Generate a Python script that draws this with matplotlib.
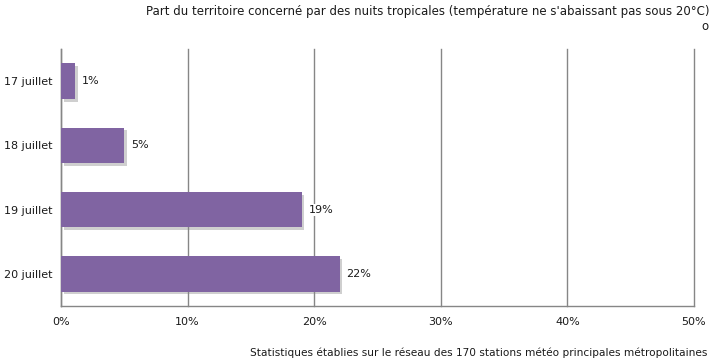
import matplotlib
matplotlib.use("Agg")
import matplotlib.pyplot as plt
import matplotlib.patheffects as pe

# data
days = ['17 juillet', '18 juillet', '19 juillet', '20 juillet']
share = [1.1, 5.0, 19.0, 22.0]
labels = ['1%', '5%', '19%', '22%']
xticks = [0, 10, 20, 30, 40, 50]

title = "Part du territoire concerné par des nuits tropicales (température ne s'abaissant pas sous 20°C)"
source = "Statistiques établies sur le réseau des 170 stations météo principales métropolitaines"

purple = '#8064a2'
grid = '#868686'
txt = '#1a1a1a'

plt.rcParams['font.family'] = ['DejaVu Sans']
fig = plt.figure(figsize=(7.15, 3.62), dpi=100)
ax = fig.add_axes([61/715, 1 - 306/362, (694 - 61)/715, (306 - 49)/362])

pos = list(range(len(days)))
bars = ax.barh(pos, share, height=0.55, color=purple, zorder=3)
for b in bars:
    b.set_path_effects([pe.SimplePatchShadow(offset=(2, -2), shadow_rgbFace='#888888', alpha=0.4),
                        pe.Normal()])

for p, v, lab in zip(pos, share, labels):
    ax.annotate(lab, (v, p), xytext=(5, 0), textcoords='offset points',
                va='center', ha='left', fontsize=8, color=txt, zorder=4,
                bbox=dict(boxstyle='square,pad=0.1', fc='white', ec='none'))

ax.set_xlim(0, 50)
ax.set_ylim(len(days) - 0.5, -0.5)
ax.set_yticks(pos)
ax.set_yticklabels(days, fontsize=8, color=txt)
ax.set_xticks(xticks)
ax.set_xticklabels([f'{t}%' for t in xticks], fontsize=8, color=txt)
ax.tick_params(length=0)
ax.tick_params(axis='y', pad=6)
ax.tick_params(axis='x', pad=8)

ax.grid(axis='x', color=grid, linewidth=1, zorder=0)
for gl in ax.get_xgridlines():
    gl.set_clip_on(False)
for s in ['top', 'right']:
    ax.spines[s].set_visible(False)
for s in ['left', 'bottom']:
    ax.spines[s].set_color(grid)
    ax.spines[s].set_linewidth(1)

fig.text(710/715, 1 - 12/362, title, ha='right', va='center', fontsize=8.5, color=txt)
fig.text(708/715, 1 - 27/362, 'o', ha='right', va='center', fontsize=8.5, color=txt)
fig.text(707/715, 1 - 353/362, source, ha='right', va='center', fontsize=7.6, color=txt)

fig.savefig('out.png', dpi=100)
